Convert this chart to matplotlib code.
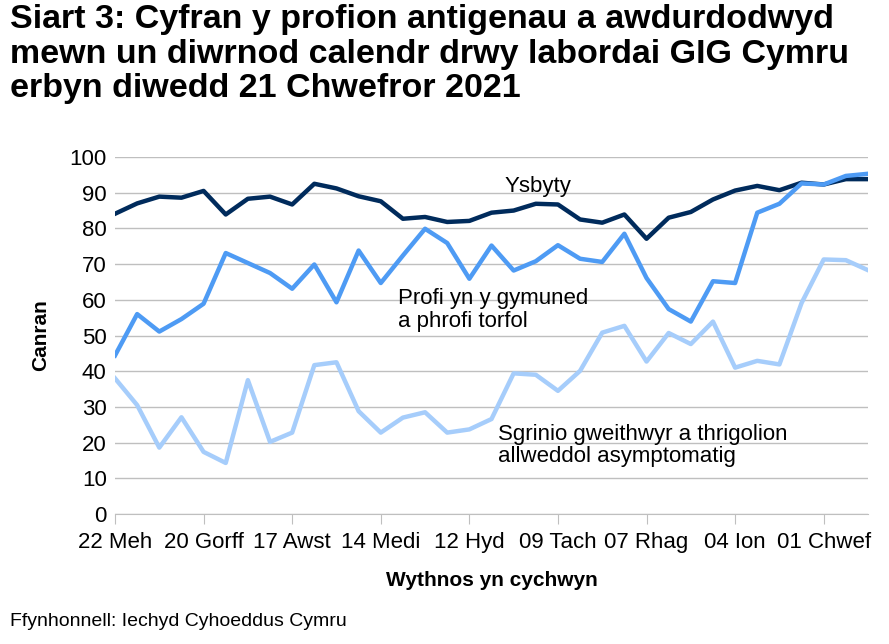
import matplotlib
matplotlib.use("Agg")
import matplotlib.pyplot as plt

plt.rcParams['font.family'] = ['Liberation Sans', 'DejaVu Sans']

tick_labels = ["22 Meh", "20 Gorff", "17 Awst", "14 Medi", "12 Hyd", "09 Tach", "07 Rhag", "04 Ion", "01 Chwef"]
ysbyty = [84.1, 87.0, 88.9, 88.6, 90.5, 83.9, 88.3, 88.9, 86.7, 92.5, 91.2, 89.0, 87.6, 82.7, 83.2, 81.8, 82.1, 84.4,
          85.0, 86.9, 86.7, 82.5, 81.6, 83.9, 77.1, 83.0, 84.6, 88.1, 90.6, 91.9, 90.7, 92.8, 92.3, 93.8, 93.8]
cymuned = [44.4, 56.0, 51.1, 54.6, 58.9, 73.1, 70.3, 67.5, 63.1, 69.9, 59.3, 73.8, 64.7, 72.4, 79.9, 75.9, 65.9, 75.2,
           68.2, 70.8, 75.3, 71.5, 70.6, 78.5, 66.1, 57.4, 53.9, 65.2, 64.7, 84.4, 86.9, 92.6, 92.3, 94.7, 95.3]
sgrinio = [38.0, 30.5, 18.6, 27.1, 17.4, 14.3, 37.5, 20.2, 22.8, 41.7, 42.5, 28.8, 22.8, 27.0, 28.5, 22.8, 23.7, 26.6,
           39.4, 39.0, 34.5, 40.1, 50.8, 52.7, 42.7, 50.7, 47.6, 53.9, 41.0, 42.9, 41.9, 59.1, 71.3, 71.1, 68.3]

fig = plt.figure(figsize=(8.89, 6.44), dpi=100)
ax = fig.add_axes([115/889, 1-514/644, (868-115)/889, (514-157)/644])
x = list(range(len(ysbyty)))
ax.plot(x, ysbyty, color='#002b5c', lw=3.2)
ax.plot(x, cymuned, color='#4e9bf4', lw=3.2)
ax.plot(x, sgrinio, color='#a6cdfb', lw=3.2)
ax.set_xlim(0, len(x)-1)
ax.set_ylim(0, 100)
ax.set_yticks(range(0, 101, 10))
ax.set_xticks(range(0, len(x), 4))
ax.set_xticklabels(tick_labels)
ax.tick_params(axis='both', labelsize=16, length=0, pad=6)
ax.tick_params(axis='x', length=7, color='#bfbfbf', direction='out', pad=6)
ax.grid(axis='y', color='#bfbfbf', lw=1)
ax.set_axisbelow(True)
for s in ['top', 'right', 'left']:
    ax.spines[s].set_visible(False)
ax.spines['bottom'].set_color('#bfbfbf')

ax.text(17.6, 90.3, "Ysbyty", fontsize=16)
ax.text(12.8, 52.5, "Profi yn y gymuned\na phrofi torfol", fontsize=16, linespacing=1.1)
ax.text(17.3, 14.5, "Sgrinio gweithwyr a thrigolion\nallweddol asymptomatig", fontsize=16, linespacing=1.1)

ax.set_ylabel("Canran", fontsize=15, fontweight='bold', labelpad=14)
fig.text(0.5*(115+868)/889, 1-580/644, "Wythnos yn cychwyn", fontsize=15, fontweight='bold', ha='center', va='center')
fig.text(10/889, 1-621/644, "Ffynhonnell: Iechyd Cyhoeddus Cymru", fontsize=14, va='center')
fig.text(10/889, 1-4/644, "Siart 3: Cyfran y profion antigenau a awdurdodwyd\nmewn un diwrnod calendr drwy labordai GIG Cymru\nerbyn diwedd 21 Chwefror 2021",
         fontsize=24.5, fontweight='bold', va='top', linespacing=1.15)
fig.savefig("out.png", dpi=100)
